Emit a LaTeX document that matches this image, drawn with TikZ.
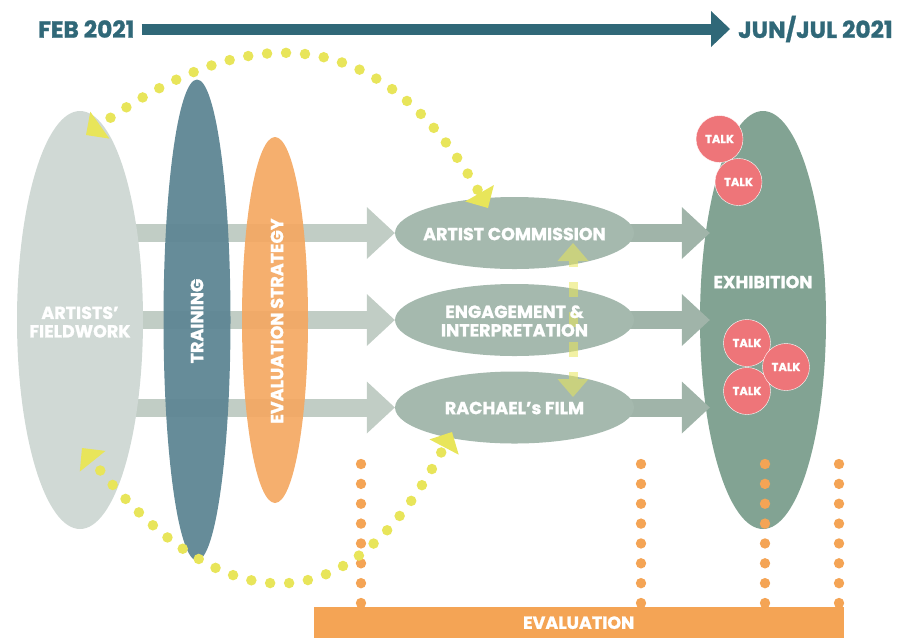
\documentclass[tikz,border=0pt]{standalone}
\usepackage{fontspec}
\setmainfont{Poppins}[BoldFeatures={FakeBold=1.2}]
\usetikzlibrary{shapes.geometric,arrows.meta}
\definecolor{cTeal}{HTML}{306878}
\definecolor{cFw}{HTML}{D0D9D5}
\definecolor{cTr}{HTML}{5E8694}
\definecolor{cEs}{HTML}{F4A862}
\definecolor{cArL}{HTML}{C1CDC5}
\definecolor{cMid}{HTML}{A5B9AE}
\definecolor{cArR}{HTML}{A0B4A9}
\definecolor{cEx}{HTML}{82A393}
\definecolor{cTalk}{HTML}{EE7579}
\definecolor{cYel}{HTML}{E8E55A}
\definecolor{cOr}{HTML}{F4A455}
\pgfdeclarelayer{back}
\pgfdeclarelayer{bg}
\pgfsetlayers{back,bg,main}
\begin{document}
\begin{tikzpicture}[x=1pt,y=-1pt,
  lbl/.style={text=white,font=\bfseries\fontsize{17.5}{18.5}\selectfont,align=center,inner sep=0pt},
  ttl/.style={text=cTeal,font=\bfseries\fontsize{23.3}{26}\selectfont,inner sep=0pt},
  oval/.style={ellipse,inner sep=0pt,draw=none},
  block/.style={line width=18pt,-{Triangle[length=28pt,width=52pt,line width=0pt]}},
  ydots/.style={cYel,line width=10.5pt,line cap=round,dash pattern=on 0pt off 19pt,
    {Triangle[length=17pt,width=33pt,line width=0pt]}-{Triangle[length=17pt,width=33pt,line width=0pt]}},
  odot/.style={fill=cOr},
  vdash/.style={cYel,opacity=0.55,line width=9pt,dash pattern=on 15pt off 15pt,
    {Triangle[length=18pt,width=31pt,line width=0pt]}-{Triangle[length=18pt,width=31pt,line width=0pt]}},
  talk/.style={circle,fill=cTalk,draw=white,line width=0.4pt,minimum size=47pt,inner sep=0pt,
    text=white,font=\bfseries\fontsize{11.5}{13}\selectfont},
]
\useasboundingbox (0,0) rectangle (917,638);
% exhibition (furthest back)
\begin{pgfonlayer}{back}
\node[oval,fill=cEx,minimum width=126pt,minimum height=418pt] (ex) at (763,320) {};
\end{pgfonlayer}
% left columns
\node[oval,fill=cFw,minimum width=126pt,minimum height=418pt] (fw) at (80,320) {};
\node[oval,fill=cTr,fill opacity=0.95,minimum width=67pt,minimum height=481pt] (tr) at (197,320) {};
\node[oval,fill=cEs,fill opacity=0.92,minimum width=66pt,minimum height=366pt] (es) at (275,320) {};
% middle ellipses
\node[oval,fill=cMid,minimum width=239pt,minimum height=72pt] (ac) at (514.5,233) {};
\node[oval,fill=cMid,minimum width=239pt,minimum height=72pt] (ei) at (514.5,320) {};
\node[oval,fill=cMid,minimum width=239pt,minimum height=72pt] (rf) at (514.5,407.5) {};
% block arrows
\begin{pgfonlayer}{bg}
\draw[block,cArL] (fw.center |- ac.west) -- (ac.west);
\draw[block,cArL] (fw.center |- ei.west) -- (ei.west);
\draw[block,cArL] (fw.center |- rf.west) -- (rf.west);
\draw[block,cArR] (ac.center) -- ([xshift=10pt]ex.west |- ac.center);
\draw[block,cArR] (ei.center) -- ([xshift=10pt]ex.west |- ei.center);
\draw[block,cArR] (rf.center) -- ([xshift=10pt]ex.west |- rf.center);
\end{pgfonlayer}
% vertical dashed double arrow
\coordinate (va) at (573,243);
\coordinate (vb) at (573,397);
\draw[vdash,dash phase=9pt] (va) -- (vb);
% labels
\node[lbl] (fwt) at (80,322) {ARTISTS’\\FIELDWORK};
\node[lbl,rotate=90] (trt) at (197,321) {TRAINING};
\node[lbl,rotate=90] (est) at (277,321) {EVALUATION STRATEGY};
\node[lbl] (act) at (514.5,234) {ARTIST COMMISSION};
\node[lbl] (eit) at (514.5,321) {ENGAGEMENT \&\\INTERPRETATION};
\node[lbl] (rft) at (514.5,408) {RACHAEL’s FILM};
\node[lbl] (ext) at (763,282) {EXHIBITION};
% talks
\node[talk] (t1) at (719.5,139) {TALK};
\node[talk] (t2) at (738.5,182) {TALK};
\node[talk] (t3) at (747,343) {TALK};
\node[talk] (t5) at (747,391) {TALK};
\node[talk] (t4) at (786,367) {TALK};
% evaluation bar and dots
\node[fill=cOr,minimum width=530pt,minimum height=31pt,inner sep=0pt,anchor=north west,lbl] (ev) at (313.5,607) {EVALUATION};
\foreach \x in {361,641,765,839}{
  \foreach \i in {0,...,7}{
    \fill[odot] (\x,464+\i*19.86) circle (5.2pt);
  }
}
% yellow dotted arcs
\coordinate (u1) at (86,135);
\coordinate (u2) at (488,208);
\coordinate (l1) at (82,448);
\coordinate (l2) at (452,432);
\draw[ydots,dash phase=6pt] (u1) .. controls (217,42) and (365,-7) .. (u2);
\draw[ydots,dash phase=7pt] (l1) .. controls (218,617) and (345,636) .. (l2);
% timeline
\node[ttl,anchor=west] (feb) at (38,29) {FEB 2021};
\node[ttl,anchor=west] (jun) at (738,29) {JUN/JUL 2021};
\draw[cTeal,line width=11pt,-{Triangle[length=19pt,width=36pt,line width=0pt]}] ([xshift=7pt]feb.east) -- ([xshift=-8pt]jun.west);
\end{tikzpicture}
\end{document}
